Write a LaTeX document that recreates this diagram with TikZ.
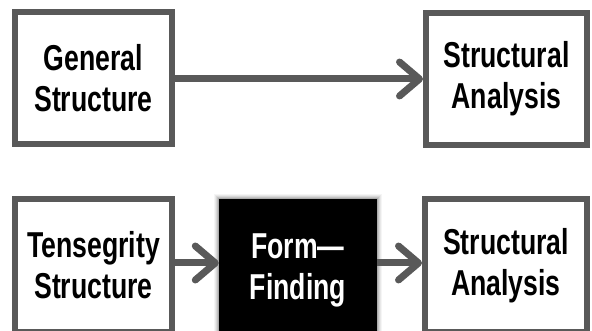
\documentclass[tikz,border=0pt]{standalone}
\usepackage{fontspec}
\setmainfont[FakeStretch=0.74]{Liberation Sans}
\usetikzlibrary{arrows.meta}
\definecolor{bordergray}{HTML}{595959}
\tikzset{
  box/.style={draw=bordergray, line width=6pt, fill=white, align=center, inner sep=0pt,
    font=\fontsize{36}{41}\selectfont\bfseries, text=black},
  blackbox/.style={fill=black, align=center, inner sep=0pt,
    font=\fontsize{36}{41}\selectfont\bfseries, text=white},
  conn/.style={draw=bordergray, line width=7pt,
    -{Straight Barb[length=20pt,width=34pt,line cap=round,line join=round]}},
}
\begin{document}
\begin{tikzpicture}[x=1pt,y=1pt]
\useasboundingbox (0,0) rectangle (592,-331);
\fill[white] (0,0) rectangle (592,-331);
% top row
\node[box, minimum width=157pt, minimum height=132pt] (gs) at (93.5,-78) {General\\Structure};
\node[box, minimum width=161pt, minimum height=132pt] (sa1) at (506.5,-79) {Structural\\Analysis};
% bottom row
\node[box, minimum width=157pt, minimum height=133pt] (ts) at (93.5,-265.5) {Tensegrity\\Structure};
% soft glow around the black box
\foreach \g/\o in {5/0.04,4/0.05,3/0.07,2/0.09,1/0.12}{
  \fill[black, opacity=\o] (219-\g,-199+\g) rectangle (377+\g,-345);
}
\node[blackbox, minimum width=158pt, minimum height=142pt] (ff) at (298,-270) {Form—\\Finding};
\node[box, minimum width=162pt, minimum height=133pt] (sa2) at (506,-265.5) {Structural\\Analysis};
% connectors
\coordinate (r1) at (175,-79);
\coordinate (r2) at (175,-263);
\coordinate (r3) at (377,-263);
\draw[conn] (r1) -- (r1 -| sa1.west);
\draw[conn] (r2) -- (r2 -| ff.west);
\draw[conn] (r3) -- (r3 -| sa2.west);
\end{tikzpicture}
\end{document}
